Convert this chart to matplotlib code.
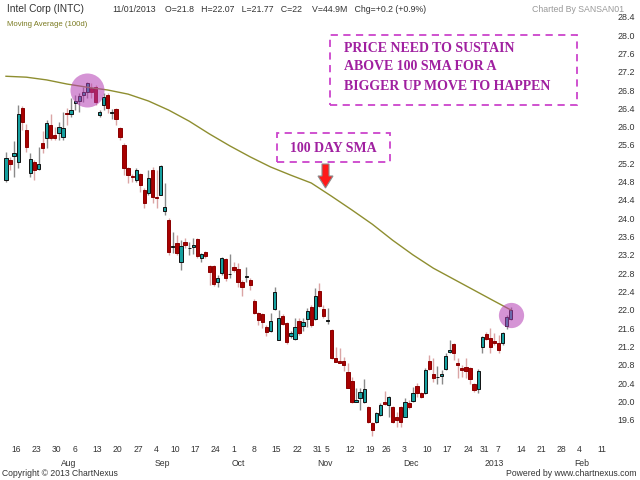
import pandas as pd
import matplotlib
matplotlib.use("Agg")
import matplotlib.pyplot as plt
from matplotlib.patches import Rectangle, Polygon
from matplotlib.transforms import blended_transform_factory

# trading sessions shown (NYSE holidays removed)
holidays = ["2012-09-03", "2012-10-29", "2012-10-30", "2012-11-22", "2012-12-25", "2013-01-01"]
dates = pd.bdate_range("2012-07-13", "2013-01-11", freq="C", holidays=holidays)
future = pd.bdate_range("2013-01-14", "2013-02-15")

opens = [24.83, 25.27, 25.36, 25.23, 26.41, 25.93, 24.99, 25.23, 25.07, 25.64,
         25.75, 26.03, 25.82, 25.86, 25.77, 26.30, 26.27, 26.52, 26.56, 26.69,
         26.75, 26.84, 26.86, 26.25, 26.47, 26.69, 26.30, 26.38, 25.97, 25.60,
         25.10, 24.91, 24.83, 24.97, 24.62, 24.55, 25.05, 24.46, 24.51, 24.16,
         23.96, 23.38, 23.46, 23.04, 23.48, 23.35, 23.37, 23.55, 23.13, 23.26,
         22.96, 22.96, 22.61, 22.80, 23.11, 22.78, 22.93, 22.89, 22.61, 22.72,
         22.65, 22.19, 21.93, 21.91, 21.62, 21.54, 22.02, 21.34, 21.86, 21.71,
         21.43, 21.36, 21.75, 21.65, 21.80, 22.06, 21.80, 22.41, 22.02, 21.76,
         21.56, 20.95, 20.88, 20.88, 20.64, 20.45, 19.99, 20.07, 19.99, 19.88,
         19.53, 19.55, 19.70, 19.98, 19.92, 19.88, 19.66, 19.88, 19.66, 19.96,
         20.01, 20.34, 20.18, 20.18, 20.88, 20.60, 20.53, 20.55, 20.71, 21.08,
         21.25, 20.84, 20.73, 20.75, 20.73, 20.38, 20.27, 21.19, 21.47, 21.38,
         21.32, 21.28, 21.28, 21.65, 21.80]
highs = [25.45, 25.34, 25.69, 26.47, 26.45, 26.06, 25.42, 25.27, 25.55, 25.90,
         26.14, 26.27, 25.99, 26.10, 26.32, 26.41, 26.62, 26.69, 26.73, 26.86,
         26.97, 26.95, 26.91, 26.36, 26.73, 26.73, 26.38, 26.41, 25.99, 25.64,
         25.12, 24.97, 25.10, 24.99, 24.66, 25.05, 25.12, 25.05, 25.16, 24.77,
         24.00, 23.70, 23.63, 23.52, 23.57, 23.48, 23.57, 23.57, 23.24, 23.28,
         22.98, 22.98, 22.76, 23.15, 23.13, 23.22, 23.04, 23.02, 22.65, 22.93,
         22.69, 22.24, 21.95, 21.93, 21.67, 21.93, 22.50, 22.00, 21.91, 21.73,
         21.54, 21.82, 21.82, 21.82, 22.04, 22.10, 22.48, 22.58, 22.10, 22.04,
         21.58, 21.19, 21.16, 20.97, 20.84, 20.53, 20.30, 20.29, 20.49, 19.90,
         19.55, 19.77, 19.96, 20.23, 20.12, 19.90, 19.77, 19.90, 20.07, 20.03,
         20.31, 20.40, 20.20, 20.73, 21.01, 20.95, 20.77, 20.69, 21.06, 21.34,
         21.27, 20.95, 20.80, 20.95, 20.75, 20.40, 20.71, 21.43, 21.51, 21.60,
         21.49, 21.45, 21.51, 21.89, 22.07]
lows = [24.79, 25.05, 24.90, 25.10, 25.93, 25.45, 24.90, 24.83, 25.05, 25.42,
        25.53, 25.71, 25.71, 25.71, 25.71, 26.03, 26.21, 26.36, 26.32, 26.54,
        26.62, 26.62, 26.47, 26.21, 26.36, 26.30, 26.16, 26.03, 25.71, 24.94,
        24.77, 24.79, 24.79, 24.57, 24.22, 24.51, 24.33, 24.22, 24.50, 24.07,
        23.20, 23.24, 23.20, 22.87, 23.35, 23.20, 23.22, 23.13, 23.04, 23.13,
        22.54, 22.52, 22.50, 22.76, 22.63, 22.70, 22.83, 22.50, 22.30, 22.61,
        22.43, 21.91, 21.67, 21.60, 21.43, 21.51, 22.00, 21.34, 21.67, 21.25,
        21.39, 21.34, 21.45, 21.54, 21.62, 21.62, 21.78, 22.06, 21.82, 21.69,
        20.93, 20.86, 20.84, 20.66, 20.29, 19.97, 19.99, 19.81, 19.97, 19.53,
        19.25, 19.53, 19.68, 19.92, 19.66, 19.53, 19.44, 19.44, 19.66, 19.83,
        19.99, 20.10, 20.07, 20.16, 20.69, 20.42, 20.38, 20.38, 20.69, 21.06,
        20.90, 20.51, 20.53, 20.51, 20.38, 20.21, 20.18, 21.06, 21.34, 21.06,
        21.23, 21.06, 21.23, 21.58, 21.77]
closes = [25.31, 25.18, 25.42, 26.27, 26.10, 25.55, 25.29, 25.05, 25.18, 25.53,
          26.08, 25.75, 25.75, 25.99, 25.97, 26.27, 26.36, 26.56, 26.67, 26.75,
          26.95, 26.75, 26.54, 26.32, 26.65, 26.41, 26.31, 26.16, 25.77, 25.10,
          24.94, 24.90, 25.05, 24.73, 24.33, 24.88, 24.46, 24.44, 25.14, 24.25,
          23.26, 23.39, 23.24, 23.39, 23.41, 23.35, 23.41, 23.17, 23.22, 23.17,
          22.83, 22.56, 22.70, 23.13, 22.70, 22.78, 22.87, 22.61, 22.50, 22.72,
          22.54, 21.93, 21.78, 21.73, 21.51, 21.76, 22.39, 21.82, 21.69, 21.30,
          21.49, 21.62, 21.49, 21.73, 21.97, 21.67, 22.30, 22.08, 21.86, 21.76,
          20.95, 20.86, 20.84, 20.79, 20.29, 19.99, 20.03, 20.20, 20.27, 19.55,
          19.38, 19.75, 19.92, 19.94, 20.10, 19.55, 19.59, 19.55, 19.99, 19.88,
          20.18, 20.18, 20.10, 20.69, 20.71, 20.51, 20.53, 20.60, 20.99, 21.12,
          21.06, 20.80, 20.69, 20.66, 20.49, 20.25, 20.66, 21.41, 21.36, 21.19,
          21.27, 21.12, 21.49, 21.84, 22.00]

# 100 day SMA, read every 5th session plus the last one
sma_step = 5
sma = [27.10, 27.08, 27.02, 26.93, 26.86, 26.80, 26.71, 26.56, 26.36, 26.12,
       25.84, 25.58, 25.34, 25.12, 24.94, 24.77, 24.48, 24.18, 23.87, 23.52,
       23.20, 22.91, 22.67, 22.43, 22.19, 22.00]

yticks = [19.6 + 0.4 * k for k in range(23)]
box_lines = ["PRICE NEED TO SUSTAIN", "ABOVE 100 SMA FOR A", "BIGGER UP MOVE TO HAPPEN"]

n = len(dates)
assert len(opens) == len(highs) == len(lows) == len(closes) == n

plt.rcParams["font.family"] = ["Liberation Sans", "DejaVu Sans"]
W, H = 640, 480
fig = plt.figure(figsize=(6.4, 4.8), dpi=100)
ax = fig.add_axes([0, 40 / H, 608 / W, 432 / H])


def px(x, y):
    return x / W, 1 - y / H


# candles
for i in range(n):
    o, h, l, c = opens[i], highs[i], lows[i], closes[i]
    up = c >= o
    ax.vlines(i, l, h, color="#8a8a8a" if up else "#dba5a5", lw=1, zorder=2)
    body = max(abs(c - o), 0.012)
    ax.bar(i, body, bottom=min(o, c), width=0.8,
           color="#16a0a0" if up else "#a80000",
           edgecolor="#111111" if up else "#8a0000", linewidth=0.7, zorder=3)

sma_x = list(range(0, n, sma_step)) + [n - 1]
ax.plot(sma_x, sma, color="#8e8e30", lw=1.0, zorder=4)

# highlight circles
top = highs.index(max(highs))
ax.scatter([top], [(opens[top] + closes[top]) / 2 - 0.05], s=600, color="#b43cb4", alpha=0.55, lw=0, zorder=5)
ax.scatter([n - 1], [(opens[-1] + closes[-1]) / 2 - 0.02], s=330, color="#b43cb4", alpha=0.55, lw=0, zorder=5)

ax.set_xlim(-1.47, 147.9)
ax.set_ylim(19.16, 28.59)
for s in ax.spines.values():
    s.set_visible(False)
ax.set_xticks([])
ax.set_yticks(yticks)
ax.set_yticklabels(["%.1f" % v for v in yticks])
ax.tick_params(axis="y", left=False, right=False, labelleft=False, labelright=True,
               pad=3.0, labelsize=6.4, labelcolor="#333333")

# date axis labels
tr = blended_transform_factory(ax.transData, fig.transFigure)
all_days = list(dates) + list(future)
months = ["Jan", "Feb", "Mar", "Apr", "May", "Jun", "Jul", "Aug", "Sep", "Oct", "Nov", "Dec"]
for i in range(1, len(all_days)):
    d, prev = all_days[i], all_days[i - 1]
    if d.weekday() < prev.weekday() or (d - prev).days > 6:
        ax.text(i + 0.3, 1 - 449 / H, str(d.day), transform=tr, ha="left", va="center",
                fontsize=6.2, color="#333333")
    if d.month != prev.month:
        lab = str(d.year) if d.month == 1 else months[d.month - 1]
        ax.text(i + 0.5, 1 - 463 / H, lab, transform=tr, ha="left", va="center",
                fontsize=6.2, color="#333333")

# header / footer
fig.text(*px(7, 9), "Intel Corp (INTC)", fontsize=7.3, color="#333333", va="center")
fig.text(*px(112, 9), "11/01/2013", fontsize=6.3, color="#333333", va="center")
fig.text(*px(165, 9), "O=21.8   H=22.07   L=21.77   C=22", fontsize=6.3, color="#333333", va="center")
fig.text(*px(312, 9), "V=44.9M   Chg=+0.2 (+0.9%)", fontsize=6.3, color="#333333", va="center")
fig.text(*px(532, 9), "Charted By SANSAN01", fontsize=6.3, color="#999999", va="center")
fig.text(*px(7, 25), "Moving Average (100d)", fontsize=5.6, color="#7a7a20", va="center")
fig.text(*px(2, 474), "Copyright \u00a9 2013 ChartNexus", fontsize=6.2, color="#333333", va="center")
fig.text(*px(637, 474), "Powered by www.chartnexus.com", fontsize=6.2, color="#333333",
         va="center", ha="right")

# annotation boxes
purple = "#a020a0"
dash = "#cc44cc"
x0, y0 = px(330, 105)
fig.patches.append(Rectangle((x0, y0), 247 / W, 70 / H, transform=fig.transFigure, fill=False,
                             edgecolor=dash, lw=1.3, linestyle=(0, (4, 3))))
for k, line in enumerate(box_lines):
    fig.text(*px(344, 48 + 19 * k), line, fontsize=10, fontweight="bold", color=purple,
             family=["Liberation Serif", "DejaVu Serif"], va="center")

x0, y0 = px(277, 162)
fig.patches.append(Rectangle((x0, y0), 113 / W, 29 / H, transform=fig.transFigure, fill=False,
                             edgecolor=dash, lw=1.3, linestyle=(0, (4, 3))))
fig.text(*px(333, 148), "100 DAY SMA", fontsize=10, fontweight="bold", color=purple,
         family=["Liberation Serif", "DejaVu Serif"], va="center", ha="center")

arrow = [px(322, 164), px(329, 164), px(329, 176), px(333, 176), px(325.5, 188),
         px(318, 176), px(322, 176)]
fig.patches.append(Polygon(arrow, closed=True, transform=fig.transFigure,
                           facecolor="#ff1a1a", edgecolor="#8c8c8c", lw=0.8))

fig.savefig("out.png", dpi=100)
